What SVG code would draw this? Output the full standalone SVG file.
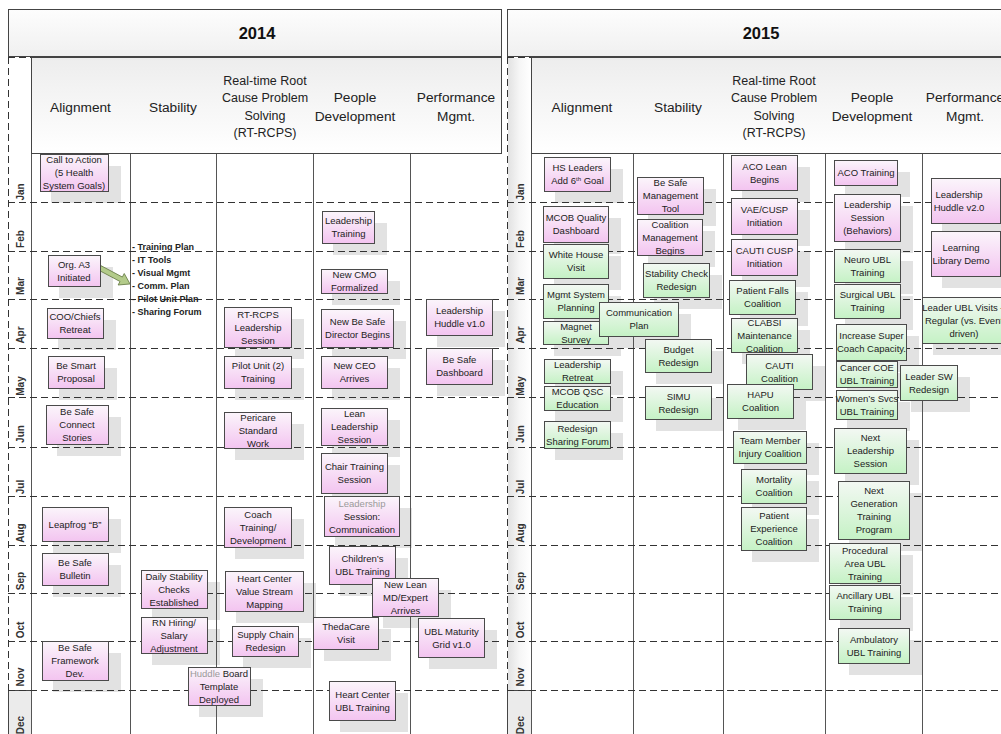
<svg xmlns="http://www.w3.org/2000/svg" width="1001" height="734" viewBox="0 0 1001 734">
<defs>
<linearGradient id="gp" x1="0" y1="0" x2="0" y2="1"><stop offset="0" stop-color="#fbf5fb"/><stop offset="1" stop-color="#f3c4f0"/></linearGradient>
<linearGradient id="gg" x1="0" y1="0" x2="0" y2="1"><stop offset="0" stop-color="#f3f8f3"/><stop offset="1" stop-color="#c5f2c5"/></linearGradient>
<linearGradient id="ghd" x1="0" y1="0" x2="0" y2="1"><stop offset="0" stop-color="#fdfdfd"/><stop offset="1" stop-color="#f0f0f0"/></linearGradient>
<linearGradient id="glh" x1="0" y1="0" x2="0" y2="1"><stop offset="0" stop-color="#ededed"/><stop offset="1" stop-color="#ffffff"/></linearGradient>
<linearGradient id="gsb" x1="0" y1="0" x2="1" y2="0"><stop offset="0" stop-color="#e2e2e2"/><stop offset="0.5" stop-color="#f6f6f6"/><stop offset="1" stop-color="#ffffff"/></linearGradient>
<style>
.t{font-family:"Liberation Sans",Arial,sans-serif;font-size:9.5px;fill:#222;text-anchor:middle}
.hd{font-family:"Liberation Sans",Arial,sans-serif;font-size:13.7px;fill:#222;text-anchor:middle}
.hs{font-family:"Liberation Sans",Arial,sans-serif;font-size:12.5px;fill:#222;text-anchor:middle}
.yr{font-family:"Liberation Sans",Arial,sans-serif;font-size:16.5px;font-weight:bold;fill:#111;text-anchor:middle}
.mo{font-family:"Liberation Sans",Arial,sans-serif;font-size:10px;font-weight:bold;fill:#333;text-anchor:middle}
.ls{font-family:"Liberation Sans",Arial,sans-serif;font-size:9px;font-weight:bold;fill:#222}
.pk{fill:url(#gp);stroke:#4a4a4a;stroke-width:1}
.gr{fill:url(#gg);stroke:#4a4a4a;stroke-width:1}
.sh{fill:#e2e2e2}
.sol{stroke:#555;stroke-width:1;fill:none}
.dsh{stroke:#333;stroke-width:1;stroke-dasharray:7 4;fill:none}
.lt{fill:#9a9a9a}
</style>
</defs>
<rect x="0" y="0" width="1001" height="734" fill="#ffffff"/>

<g id="pools">
<rect x="8.5" y="9.5" width="493" height="47" fill="url(#ghd)" stroke="#444"/>
<rect x="31.5" y="57.5" width="470" height="96" fill="url(#glh)" stroke="#444"/>
<rect x="507.5" y="9.5" width="500" height="47" fill="url(#ghd)" stroke="#444"/>
<rect x="531.5" y="57.5" width="480" height="96" fill="url(#glh)" stroke="#444"/>
<rect x="508" y="58" width="23" height="632" fill="url(#gsb)"/>
<rect x="8.5" y="690.5" width="23" height="50" fill="#ebebeb" stroke="#444"/>
<rect x="507.5" y="690.5" width="24" height="50" fill="#ebebeb" stroke="#444"/>
<text class="yr" x="257" y="39">2014</text>
<text class="yr" x="761" y="39">2015</text>
<text class="hd" x="80.5" y="112">Alignment</text>
<text class="hd" x="173" y="112">Stability</text>
<text class="hs" x="265"><tspan x="265" y="84.5">Real-time Root</tspan><tspan x="265" y="102">Cause Problem</tspan><tspan x="265" y="119.5">Solving</tspan><tspan x="265" y="137">(RT-RCPS)</tspan></text>
<text class="hd" x="355"><tspan x="355" y="101.5">People</tspan><tspan x="355" y="120.5">Development</tspan></text>
<text class="hd" x="456"><tspan x="456" y="101.5">Performance</tspan><tspan x="456" y="120.5">Mgmt.</tspan></text>
<text class="hd" x="582" y="112">Alignment</text>
<text class="hd" x="678" y="112">Stability</text>
<text class="hs" x="774"><tspan x="774" y="84.5">Real-time Root</tspan><tspan x="774" y="102">Cause Problem</tspan><tspan x="774" y="119.5">Solving</tspan><tspan x="774" y="137">(RT-RCPS)</tspan></text>
<text class="hd" x="872"><tspan x="872" y="101.5">People</tspan><tspan x="872" y="120.5">Development</tspan></text>
<text class="hd" x="965"><tspan x="965" y="101.5">Performance</tspan><tspan x="965" y="120.5">Mgmt.</tspan></text>
</g>

<g id="months">
<text class="mo" transform="translate(24,192) rotate(-90)">Jan</text>
<text class="mo" transform="translate(24,239) rotate(-90)">Feb</text>
<text class="mo" transform="translate(24,286) rotate(-90)">Mar</text>
<text class="mo" transform="translate(24,335) rotate(-90)">Apr</text>
<text class="mo" transform="translate(24,386) rotate(-90)">May</text>
<text class="mo" transform="translate(24,434) rotate(-90)">Jun</text>
<text class="mo" transform="translate(24,487) rotate(-90)">Jul</text>
<text class="mo" transform="translate(24,533) rotate(-90)">Aug</text>
<text class="mo" transform="translate(24,581) rotate(-90)">Sep</text>
<text class="mo" transform="translate(24,630) rotate(-90)">Oct</text>
<text class="mo" transform="translate(24,677) rotate(-90)">Nov</text>
<text class="mo" transform="translate(24,725) rotate(-90)">Dec</text>
<text class="mo" transform="translate(524,192) rotate(-90)">Jan</text>
<text class="mo" transform="translate(524,239) rotate(-90)">Feb</text>
<text class="mo" transform="translate(524,286) rotate(-90)">Mar</text>
<text class="mo" transform="translate(524,335) rotate(-90)">Apr</text>
<text class="mo" transform="translate(524,386) rotate(-90)">May</text>
<text class="mo" transform="translate(524,434) rotate(-90)">Jun</text>
<text class="mo" transform="translate(524,487) rotate(-90)">Jul</text>
<text class="mo" transform="translate(524,533) rotate(-90)">Aug</text>
<text class="mo" transform="translate(524,581) rotate(-90)">Sep</text>
<text class="mo" transform="translate(524,630) rotate(-90)">Oct</text>
<text class="mo" transform="translate(524,677) rotate(-90)">Nov</text>
<text class="mo" transform="translate(524,725) rotate(-90)">Dec</text>
</g>

<g id="shadows" class="sh">
<rect x="51" y="166" width="70" height="37"/>
<rect x="59" y="267" width="54" height="31"/>
<rect x="58" y="320" width="58" height="30"/>
<rect x="59" y="368" width="58" height="32"/>
<rect x="57" y="417" width="64" height="39"/>
<rect x="53" y="519" width="68" height="34"/>
<rect x="53" y="565" width="68" height="32"/>
<rect x="53" y="653" width="68" height="39"/>
<rect x="152" y="582" width="68" height="38"/>
<rect x="152" y="629" width="68" height="36"/>
<rect x="199" y="679" width="64" height="38"/>
<rect x="235" y="319" width="69" height="40"/>
<rect x="235" y="368" width="69" height="32"/>
<rect x="235" y="424" width="69" height="36"/>
<rect x="235" y="519" width="69" height="40"/>
<rect x="236" y="583" width="80" height="40"/>
<rect x="243" y="638" width="68" height="30"/>
<rect x="333" y="223" width="54" height="32"/>
<rect x="332" y="281" width="68" height="24"/>
<rect x="332" y="321" width="74" height="38"/>
<rect x="332" y="368" width="68" height="32"/>
<rect x="332" y="420" width="68" height="37"/>
<rect x="332" y="465" width="68" height="40"/>
<rect x="335" y="508" width="77" height="40"/>
<rect x="340" y="558" width="68" height="38"/>
<rect x="383" y="590" width="68" height="38"/>
<rect x="324" y="629" width="67" height="32"/>
<rect x="340" y="693" width="68" height="39"/>
<rect x="437" y="311" width="68" height="36"/>
<rect x="437" y="360" width="68" height="36"/>
<rect x="429" y="630" width="68" height="39"/>
<rect x="555" y="169" width="68" height="34"/>
<rect x="554" y="218" width="67" height="36"/>
<rect x="554" y="256" width="67" height="34"/>
<rect x="554" y="296" width="67" height="34"/>
<rect x="554" y="333" width="67" height="23"/>
<rect x="610" y="314" width="81" height="34"/>
<rect x="555" y="371" width="68" height="24"/>
<rect x="555" y="398" width="68" height="24"/>
<rect x="555" y="433" width="68" height="27"/>
<rect x="648" y="189" width="68" height="37"/>
<rect x="648" y="231" width="67" height="36"/>
<rect x="654" y="275" width="68" height="34"/>
<rect x="656" y="351" width="68" height="33"/>
<rect x="656" y="398" width="68" height="33"/>
<rect x="742" y="167" width="68" height="35"/>
<rect x="742" y="210" width="68" height="36"/>
<rect x="742" y="251" width="68" height="36"/>
<rect x="740" y="292" width="68" height="34"/>
<rect x="742" y="330" width="68" height="34"/>
<rect x="757" y="366" width="68" height="35"/>
<rect x="738" y="396" width="68" height="34"/>
<rect x="744" y="443" width="75" height="32"/>
<rect x="752" y="481" width="67" height="34"/>
<rect x="752" y="519" width="67" height="43"/>
<rect x="845" y="172" width="65" height="25"/>
<rect x="845" y="206" width="68" height="47"/>
<rect x="845" y="261" width="68" height="33"/>
<rect x="845" y="296" width="68" height="34"/>
<rect x="847" y="336" width="72" height="36"/>
<rect x="847" y="373" width="63" height="26"/>
<rect x="847" y="402" width="63" height="29"/>
<rect x="911" y="377" width="59" height="35"/>
<rect x="845" y="440" width="74" height="45"/>
<rect x="849" y="493" width="73" height="58"/>
<rect x="840" y="555" width="73" height="40"/>
<rect x="840" y="597" width="73" height="34"/>
<rect x="849" y="640" width="73" height="35"/>
<rect x="942" y="190" width="71" height="45"/>
<rect x="942" y="243" width="71" height="45"/>
<rect x="933" y="309" width="84" height="46"/>
</g>

<g id="grid">
<path class="sol" d="M31.5 154V734M130.5 154V734M216.5 154V734M313.5 154V734M410.5 154V734M531.5 154V734M633.5 154V734M723.5 154V734M825.5 154V734M922.5 154V734"/>
<path class="dsh" d="M8.5 57V690M8 57.5H31M507.5 57V690M507 57.5H531"/>
<path class="dsh" d="M8 202.5H501M8 251.5H501M8 299.5H501M8 348.5H501M8 397.5H501M8 447.5H501M8 496.5H501M8 545.5H501M8 593.5H501M8 641.5H501M8 690.5H501"/>
<path class="dsh" d="M507 202.5H1001M507 251.5H1001M507 299.5H1001M507 348.5H1001M507 397.5H1001M507 447.5H1001M507 496.5H1001M507 545.5H1001M507 593.5H1001M507 641.5H1001M507 690.5H1001"/>
</g>

<g id="list-2014-stability">
<text class="ls"><tspan x="132" y="250">- Training Plan</tspan><tspan x="132" y="263">- IT Tools</tspan><tspan x="132" y="276">- Visual Mgmt</tspan><tspan x="132" y="289">- Comm. Plan</tspan><tspan x="132" y="302">- Pilot Unit Plan</tspan><tspan x="132" y="315">- Sharing Forum</tspan></text>
</g>

<g id="connectors">
<g transform="translate(100,268) rotate(28)"><polygon points="0,-2.5 24,-2.5 24,-6.5 34,0 24,6.5 24,2.5 0,2.5" fill="#b3cb8a" stroke="#6b7f4a" stroke-width="0.8"/></g>
</g>

<g id="n-call"><rect class="pk" x="40.5" y="154.5" width="68" height="37"/><text class="t"><tspan x="74" y="162.5">Call to Action</tspan><tspan x="74" y="175.5">(5 Health</tspan><tspan x="74" y="188.5">System Goals)</tspan></text></g>
<g id="n-orga3"><rect class="pk" x="48.5" y="255.5" width="52" height="31"/><text class="t"><tspan x="74" y="267.5">Org. A3</tspan><tspan x="74" y="280.5">Initiated</tspan></text></g>
<g id="n-coo"><rect class="pk" x="47.5" y="308.5" width="56" height="30"/><text class="t"><tspan x="75" y="320">COO/Chiefs</tspan><tspan x="75" y="333">Retreat</tspan></text></g>
<g id="n-smart"><rect class="pk" x="48.5" y="356.5" width="56" height="32"/><text class="t"><tspan x="76" y="369">Be Smart</tspan><tspan x="76" y="382">Proposal</tspan></text></g>
<g id="n-connect"><rect class="pk" x="46.5" y="405.5" width="62" height="39"/><text class="t"><tspan x="77" y="415">Be Safe</tspan><tspan x="77" y="428">Connect</tspan><tspan x="77" y="441">Stories</tspan></text></g>
<g id="n-leap"><rect class="pk" x="42.5" y="507.5" width="66" height="34"/><text class="t"><tspan x="75" y="527.5">Leapfrog “B”</tspan></text></g>
<g id="n-bulletin"><rect class="pk" x="42.5" y="553.5" width="66" height="32"/><text class="t"><tspan x="75" y="566">Be Safe</tspan><tspan x="75" y="579">Bulletin</tspan></text></g>
<g id="n-framework"><rect class="pk" x="42.5" y="641.5" width="66" height="39"/><text class="t"><tspan x="75" y="651">Be Safe</tspan><tspan x="75" y="664">Framework</tspan><tspan x="75" y="677">Dev.</tspan></text></g>
<g id="n-daily"><rect class="pk" x="141.5" y="570.5" width="66" height="38"/><text class="t"><tspan x="174" y="579.5">Daily Stability</tspan><tspan x="174" y="592.5">Checks</tspan><tspan x="174" y="605.5">Established</tspan></text></g>
<g id="n-rn"><rect class="pk" x="141.5" y="617.5" width="66" height="36"/><text class="t"><tspan x="174" y="625.5">RN Hiring/</tspan><tspan x="174" y="638.5">Salary</tspan><tspan x="174" y="651.5">Adjustment</tspan></text></g>
<g id="n-huddleboard"><rect class="pk" x="188.5" y="667.5" width="62" height="38"/><text class="t"><tspan x="219" y="676.5"><tspan class="lt">Huddle</tspan> Board</tspan><tspan x="219" y="689.5">Template</tspan><tspan x="219" y="702.5">Deployed</tspan></text></g>
<g id="n-rtrcps"><rect class="pk" x="224.5" y="307.5" width="67" height="40"/><text class="t"><tspan x="258" y="317.5">RT-RCPS</tspan><tspan x="258" y="330.5">Leadership</tspan><tspan x="258" y="343.5">Session</tspan></text></g>
<g id="n-pilot"><rect class="pk" x="224.5" y="356.5" width="67" height="32"/><text class="t"><tspan x="258" y="369">Pilot Unit (2)</tspan><tspan x="258" y="382">Training</tspan></text></g>
<g id="n-pericare"><rect class="pk" x="224.5" y="412.5" width="67" height="36"/><text class="t"><tspan x="258" y="420.5">Pericare</tspan><tspan x="258" y="433.5">Standard</tspan><tspan x="258" y="446.5">Work</tspan></text></g>
<g id="n-coach"><rect class="pk" x="224.5" y="507.5" width="67" height="40"/><text class="t"><tspan x="258" y="517.5">Coach</tspan><tspan x="258" y="530.5">Training/</tspan><tspan x="258" y="543.5">Development</tspan></text></g>
<g id="n-heartvsm"><rect class="pk" x="225.5" y="571.5" width="78" height="40"/><text class="t"><tspan x="264.5" y="581.5">Heart Center</tspan><tspan x="264.5" y="594.5">Value Stream</tspan><tspan x="264.5" y="607.5">Mapping</tspan></text></g>
<g id="n-supply"><rect class="pk" x="232.5" y="626.5" width="66" height="30"/><text class="t"><tspan x="265.5" y="638">Supply Chain</tspan><tspan x="265.5" y="651">Redesign</tspan></text></g>
<g id="n-ldrtrain"><rect class="pk" x="322.5" y="211.5" width="52" height="32"/><text class="t"><tspan x="348.5" y="224">Leadership</tspan><tspan x="348.5" y="237">Training</tspan></text></g>
<g id="n-cmo"><rect class="pk" x="321.5" y="269.5" width="66" height="24"/><text class="t"><tspan x="354.5" y="278">New CMO</tspan><tspan x="354.5" y="291">Formalized</tspan></text></g>
<g id="n-newbesafe"><rect class="pk" x="321.5" y="309.5" width="72" height="38"/><text class="t"><tspan x="357.5" y="325">New Be Safe</tspan><tspan x="357.5" y="338">Director Begins</tspan></text></g>
<g id="n-ceo"><rect class="pk" x="321.5" y="356.5" width="66" height="32"/><text class="t"><tspan x="354.5" y="369">New CEO</tspan><tspan x="354.5" y="382">Arrives</tspan></text></g>
<g id="n-lean"><rect class="pk" x="321.5" y="408.5" width="66" height="37"/><text class="t"><tspan x="354.5" y="417">Lean</tspan><tspan x="354.5" y="430">Leadership</tspan><tspan x="354.5" y="443">Session</tspan></text></g>
<g id="n-chair"><rect class="pk" x="321.5" y="453.5" width="66" height="40"/><text class="t"><tspan x="354.5" y="470">Chair Training</tspan><tspan x="354.5" y="483">Session</tspan></text></g>
<g id="n-commsess"><rect class="pk" x="324.5" y="496.5" width="75" height="40"/><text class="t"><tspan x="362" y="506.5" class="lt">Leadership</tspan><tspan x="362" y="519.5">Session:</tspan><tspan x="362" y="532.5">Communication</tspan></text></g>
<g id="n-children"><rect class="pk" x="329.5" y="546.5" width="66" height="38"/><text class="t"><tspan x="362.5" y="562">Children’s</tspan><tspan x="362.5" y="575">UBL Training</tspan></text></g>
<g id="n-newlean"><rect class="pk" x="372.5" y="578.5" width="66" height="38"/><text class="t"><tspan x="405.5" y="587.5">New Lean</tspan><tspan x="405.5" y="600.5">MD/Expert</tspan><tspan x="405.5" y="613.5">Arrives</tspan></text></g>
<g id="n-thedacare"><rect class="pk" x="313.5" y="617.5" width="65" height="32"/><text class="t"><tspan x="346" y="630">ThedaCare</tspan><tspan x="346" y="643">Visit</tspan></text></g>
<g id="n-heartubl"><rect class="pk" x="329.5" y="681.5" width="66" height="39"/><text class="t"><tspan x="362.5" y="697.5">Heart Center</tspan><tspan x="362.5" y="710.5">UBL Training</tspan></text></g>
<g id="n-huddle1"><rect class="pk" x="426.5" y="299.5" width="66" height="36"/><text class="t"><tspan x="459.5" y="314">Leadership</tspan><tspan x="459.5" y="327">Huddle v1.0</tspan></text></g>
<g id="n-dashboard"><rect class="pk" x="426.5" y="348.5" width="66" height="36"/><text class="t"><tspan x="459.5" y="363">Be Safe</tspan><tspan x="459.5" y="376">Dashboard</tspan></text></g>
<g id="n-ublgrid"><rect class="pk" x="418.5" y="618.5" width="66" height="39"/><text class="t"><tspan x="451.5" y="634.5">UBL Maturity</tspan><tspan x="451.5" y="647.5">Grid v1.0</tspan></text></g>

<g id="n-hsleaders"><rect class="pk" x="544.5" y="157.5" width="66" height="34"/><text class="t"><tspan x="577.5" y="171">HS Leaders</tspan><tspan x="577.5" y="184">Add 6<tspan font-size="6" dy="-3.5">th</tspan><tspan dy="3.5"> Goal</tspan></tspan></text></g>
<g id="n-mcobq"><rect class="pk" x="543.5" y="206.5" width="65" height="36"/><text class="t"><tspan x="576" y="221">MCOB Quality</tspan><tspan x="576" y="234">Dashboard</tspan></text></g>
<g id="n-whitehouse"><rect class="gr" x="543.5" y="244.5" width="65" height="34"/><text class="t"><tspan x="576" y="258">White House</tspan><tspan x="576" y="271">Visit</tspan></text></g>
<g id="n-mgmtsys"><rect class="gr" x="543.5" y="284.5" width="65" height="34"/><text class="t"><tspan x="576" y="298">Mgmt System</tspan><tspan x="576" y="311">Planning</tspan></text></g>
<g id="n-magnet"><rect class="gr" x="543.5" y="321.5" width="65" height="23"/><text class="t"><tspan x="576" y="329.5">Magnet</tspan><tspan x="576" y="342.5">Survey</tspan></text></g>
<g id="n-commplan"><rect class="gr" x="599.5" y="302.5" width="79" height="34"/><text class="t"><tspan x="639" y="316">Communication</tspan><tspan x="639" y="329">Plan</tspan></text></g>
<g id="n-ldrretreat"><rect class="gr" x="544.5" y="359.5" width="66" height="24"/><text class="t"><tspan x="577.5" y="368">Leadership</tspan><tspan x="577.5" y="381">Retreat</tspan></text></g>
<g id="n-mcobqsc"><rect class="gr" x="544.5" y="386.5" width="66" height="24"/><text class="t"><tspan x="577.5" y="395">MCOB QSC</tspan><tspan x="577.5" y="408">Education</tspan></text></g>
<g id="n-redesignsf"><rect class="gr" x="544.5" y="421.5" width="66" height="27"/><text class="t"><tspan x="577.5" y="431.5">Redesign</tspan><tspan x="577.5" y="444.5">Sharing Forum</tspan></text></g>
<g id="n-besafemt"><rect class="pk" x="637.5" y="177.5" width="66" height="37"/><text class="t"><tspan x="670.5" y="186">Be Safe</tspan><tspan x="670.5" y="199">Management</tspan><tspan x="670.5" y="212">Tool</tspan></text></g>
<g id="n-coalmgmt"><rect class="pk" x="637.5" y="219.5" width="65" height="36"/><text class="t"><tspan x="670" y="227.5">Coalition</tspan><tspan x="670" y="240.5">Management</tspan><tspan x="670" y="253.5">Begins</tspan></text></g>
<g id="n-stabcheck"><rect class="gr" x="643.5" y="263.5" width="66" height="34"/><text class="t"><tspan x="676.5" y="277">Stability Check</tspan><tspan x="676.5" y="290">Redesign</tspan></text></g>
<g id="n-budget"><rect class="gr" x="645.5" y="339.5" width="66" height="33"/><text class="t"><tspan x="678.5" y="352.5">Budget</tspan><tspan x="678.5" y="365.5">Redesign</tspan></text></g>
<g id="n-simu"><rect class="gr" x="645.5" y="386.5" width="66" height="33"/><text class="t"><tspan x="678.5" y="399.5">SIMU</tspan><tspan x="678.5" y="412.5">Redesign</tspan></text></g>
<g id="n-acolean"><rect class="pk" x="731.5" y="155.5" width="66" height="35"/><text class="t"><tspan x="764.5" y="169.5">ACO Lean</tspan><tspan x="764.5" y="182.5">Begins</tspan></text></g>
<g id="n-vae"><rect class="pk" x="731.5" y="198.5" width="66" height="36"/><text class="t"><tspan x="764.5" y="213">VAE/CUSP</tspan><tspan x="764.5" y="226">Initiation</tspan></text></g>
<g id="n-cauticusp"><rect class="pk" x="731.5" y="239.5" width="66" height="36"/><text class="t"><tspan x="764.5" y="254">CAUTI CUSP</tspan><tspan x="764.5" y="267">Initiation</tspan></text></g>
<g id="n-falls"><rect class="gr" x="729.5" y="280.5" width="66" height="34"/><text class="t"><tspan x="762.5" y="294">Patient Falls</tspan><tspan x="762.5" y="307">Coalition</tspan></text></g>
<g id="n-clabsi"><rect class="gr" x="731.5" y="318.5" width="66" height="34"/><text class="t"><tspan x="764.5" y="325.5">CLABSI</tspan><tspan x="764.5" y="338.5">Maintenance</tspan><tspan x="764.5" y="351.5">Coalition</tspan></text></g>
<g id="n-cauti"><rect class="gr" x="746.5" y="354.5" width="66" height="35"/><text class="t"><tspan x="779.5" y="368.5">CAUTI</tspan><tspan x="779.5" y="381.5">Coalition</tspan></text></g>
<g id="n-hapu"><rect class="gr" x="727.5" y="384.5" width="66" height="34"/><text class="t"><tspan x="760.5" y="398">HAPU</tspan><tspan x="760.5" y="411">Coalition</tspan></text></g>
<g id="n-teammember"><rect class="gr" x="733.5" y="431.5" width="73" height="32"/><text class="t"><tspan x="770" y="444">Team Member</tspan><tspan x="770" y="457">Injury Coalition</tspan></text></g>
<g id="n-mortality"><rect class="gr" x="741.5" y="469.5" width="65" height="34"/><text class="t"><tspan x="774" y="483">Mortality</tspan><tspan x="774" y="496">Coalition</tspan></text></g>
<g id="n-patexp"><rect class="gr" x="741.5" y="507.5" width="65" height="43"/><text class="t"><tspan x="774" y="519">Patient</tspan><tspan x="774" y="532">Experience</tspan><tspan x="774" y="545">Coalition</tspan></text></g>
<g id="n-acotraining"><rect class="pk" x="834.5" y="160.5" width="63" height="25"/><text class="t"><tspan x="866" y="176">ACO Training</tspan></text></g>
<g id="n-ldrsessbeh"><rect class="pk" x="834.5" y="194.5" width="66" height="47"/><text class="t"><tspan x="867.5" y="208">Leadership</tspan><tspan x="867.5" y="221">Session</tspan><tspan x="867.5" y="234">(Behaviors)</tspan></text></g>
<g id="n-neuro"><rect class="gr" x="834.5" y="249.5" width="66" height="33"/><text class="t"><tspan x="867.5" y="262.5">Neuro UBL</tspan><tspan x="867.5" y="275.5">Training</tspan></text></g>
<g id="n-surgical"><rect class="gr" x="834.5" y="284.5" width="66" height="34"/><text class="t"><tspan x="867.5" y="298">Surgical UBL</tspan><tspan x="867.5" y="311">Training</tspan></text></g>
<g id="n-supercoach"><rect class="gr" x="836.5" y="324.5" width="70" height="36"/><text class="t"><tspan x="871.5" y="339">Increase Super</tspan><tspan x="871.5" y="352">Coach Capacity.</tspan></text></g>
<g id="n-cancer"><rect class="gr" x="836.5" y="361.5" width="61" height="26"/><text class="t"><tspan x="867" y="371">Cancer COE</tspan><tspan x="867" y="384">UBL Training</tspan></text></g>
<g id="n-womens"><rect class="gr" x="836.5" y="390.5" width="61" height="29"/><text class="t"><tspan x="867" y="401.5">Women’s Svcs</tspan><tspan x="867" y="414.5">UBL Training</tspan></text></g>
<g id="n-leadersw"><rect class="gr" x="900.5" y="365.5" width="57" height="35"/><text class="t"><tspan x="929" y="379.5">Leader SW</tspan><tspan x="929" y="392.5">Redesign</tspan></text></g>
<g id="n-nextldr"><rect class="gr" x="834.5" y="428.5" width="72" height="45"/><text class="t"><tspan x="870.5" y="441">Next</tspan><tspan x="870.5" y="454">Leadership</tspan><tspan x="870.5" y="467">Session</tspan></text></g>
<g id="n-nextgen"><rect class="gr" x="838.5" y="481.5" width="71" height="58"/><text class="t"><tspan x="874" y="494">Next</tspan><tspan x="874" y="507">Generation</tspan><tspan x="874" y="520">Training</tspan><tspan x="874" y="533">Program</tspan></text></g>
<g id="n-procedural"><rect class="gr" x="829.5" y="543.5" width="71" height="40"/><text class="t"><tspan x="865" y="553.5">Procedural</tspan><tspan x="865" y="566.5">Area UBL</tspan><tspan x="865" y="579.5">Training</tspan></text></g>
<g id="n-ancillary"><rect class="gr" x="829.5" y="585.5" width="71" height="34"/><text class="t"><tspan x="865" y="599">Ancillary UBL</tspan><tspan x="865" y="612">Training</tspan></text></g>
<g id="n-ambulatory"><rect class="gr" x="838.5" y="628.5" width="71" height="35"/><text class="t"><tspan x="874" y="642.5">Ambulatory</tspan><tspan x="874" y="655.5">UBL Training</tspan></text></g>
<g id="n-huddle2"><rect class="pk" x="931.5" y="178.5" width="69" height="45"/><text class="t"><tspan x="959" y="197.5">Leadership</tspan><tspan x="959" y="210.5">Huddle v2.0</tspan></text></g>
<g id="n-library"><rect class="pk" x="931.5" y="231.5" width="69" height="45"/><text class="t"><tspan x="961" y="250.5">Learning</tspan><tspan x="961" y="263.5">Library Demo</tspan></text></g>
<g id="n-leaderubl"><rect class="gr" x="922.5" y="297.5" width="84" height="46"/><text class="t"><tspan x="964" y="310.5">Leader UBL Visits –</tspan><tspan x="964" y="323.5">Regular (vs. Event</tspan><tspan x="964" y="336.5">driven)</tspan></text></g>
</svg>
